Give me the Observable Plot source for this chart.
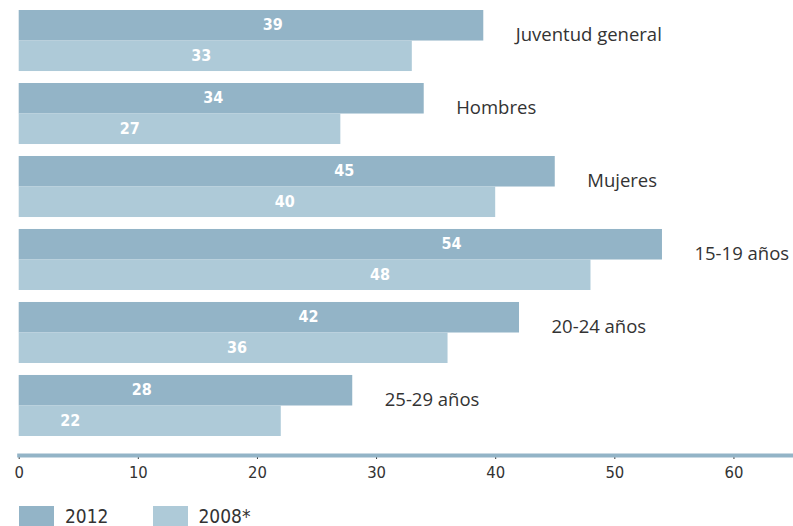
<!DOCTYPE html>
<html>
<head>
<meta charset="utf-8">
<script src="https://cdn.jsdelivr.net/npm/d3@7"></script>
<script src="https://cdn.jsdelivr.net/npm/@observablehq/plot@0.6"></script>
<style>
  body { margin: 0; background: #fff; }
  #chart { width: 793px; }
  .legend { display: flex; align-items: center; margin-top: 10px; font-family: "DejaVu Sans Condensed", "DejaVu Sans", sans-serif; font-size: 19px; color: #333; }
  .legend .item { display: flex; align-items: center; margin-right: 44px; }
  .legend .sw { width: 35px; height: 21px; margin-left: 19px; margin-right: 11px; }
  .legend .item + .item .sw { margin-left: 0; }
</style>
</head>
<body>
<div id="chart"></div>
<script>
const categories = ["Juventud general", "Hombres", "Mujeres", "15-19 años", "20-24 años", "25-29 años"];
const values2012 = [39, 34, 45, 54, 42, 28];
const values2008 = [33, 27, 40, 48, 36, 22];
const series = ["2012", "2008*"];
const seriesColors = ["#93b4c7", "#aecad8"];
const xTicks = [0, 10, 20, 30, 40, 50, 60];

const d2012 = categories.map((c, i) => ({cat: c, series: series[0], value: values2012[i]}));
const d2008 = categories.map((c, i) => ({cat: c, series: series[1], value: values2008[i]}));

const numFont = "DejaVu Sans Condensed, DejaVu Sans, sans-serif";
const labelFont = "Open Sans, Noto Sans, sans-serif";

const chart = Plot.plot({
  width: 793,
  height: 495,
  marginLeft: 18.7,
  marginRight: 0,
  marginTop: 10,
  marginBottom: 40,
  style: {fontFamily: numFont, background: "#fff"},
  x: {domain: [0, 65], axis: null},
  y: {domain: categories, range: [10, 436], paddingInner: 0.164, paddingOuter: 0, round: false, axis: null},
  color: {domain: series, range: seriesColors},
  marks: [
    Plot.barX(d2012, {x: "value", y: "cat", fill: "series", insetBottom: 30.5}),
    Plot.barX(d2008, {x: "value", y: "cat", fill: "series", insetTop: 30.5}),
    Plot.text(d2012, {x: "value", y: "cat", text: d => String(d.value), dx: -211, dy: -16, fill: "white", fontWeight: "bold", fontSize: 16, fontFamily: numFont}),
    Plot.text(d2008, {x: "value", y: "cat", text: d => String(d.value), dx: -211, dy: 15, fill: "white", fontWeight: "bold", fontSize: 16, fontFamily: numFont}),
    Plot.text(d2012, {x: "value", y: "cat", text: "cat", dx: 32, dy: -6, textAnchor: "start", fill: "#333", fontSize: 18.5, fontFamily: labelFont}),
    Plot.axisX({ticks: xTicks, tickSize: 4, stroke: "#333", label: null, tickFormat: () => ""}),
    Plot.text(xTicks, {x: d => d, frameAnchor: "bottom", dy: 22, text: d => String(d), fill: "#333", fontSize: 16.5, fontFamily: numFont}),
    Plot.frame({anchor: "bottom", stroke: "#93b4c7", strokeWidth: 4})
  ]
});
document.getElementById("chart").appendChild(chart);

const legend = document.createElement("div");
legend.className = "legend";
series.forEach((s, i) => {
  const item = document.createElement("div");
  item.className = "item";
  const sw = document.createElement("span");
  sw.className = "sw";
  sw.style.background = seriesColors[i];
  const t = document.createElement("span");
  t.textContent = s;
  item.appendChild(sw);
  item.appendChild(t);
  legend.appendChild(item);
});
document.getElementById("chart").appendChild(legend);
</script>
</body>
</html>
